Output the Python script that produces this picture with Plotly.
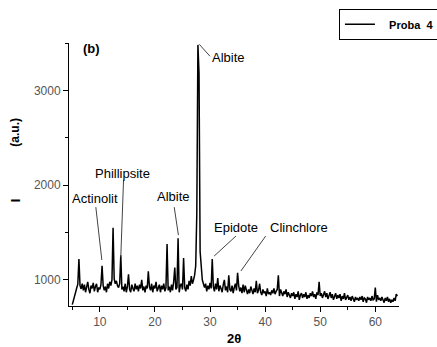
import plotly.graph_objects as go

# 2-theta scan, 0.2 degree step starting at 5.0
theta_start = 5.0
theta_step = 0.2
intensity = [
    740, 775, 815, 870, 915, 955, 1220, 940, 905, 960,
    890, 950, 870, 930, 980, 900, 860, 940, 910, 970,
    880, 930, 960, 870, 920, 900, 950, 1150, 940, 890,
    930, 870, 960, 910, 980, 940, 1000, 1550, 1010, 960,
    990, 940, 920, 960, 1260, 900, 930, 880, 960, 870,
    930, 1060, 900, 870, 950, 910, 880, 960, 900, 940,
    880, 950, 910, 1000, 890, 930, 870, 940, 910, 1090,
    930, 890, 960, 870, 940, 910, 980, 880, 920, 950,
    870, 940, 900, 960, 880, 920, 1380, 890, 930, 870,
    950, 890, 980, 1130, 900, 920, 1440, 870, 940, 960,
    900, 1230, 920, 880, 950, 900, 990, 940, 1040, 960,
    1000, 1050, 1150, 1700, 3480, 3180, 1300, 1100, 1000, 960,
    920, 960, 880, 940, 900, 970, 910, 1220, 930, 880,
    960, 900, 1020, 880, 940, 910, 870, 950, 1000, 890,
    930, 870, 1050, 900, 880, 940, 860, 920, 960, 890,
    1075, 940, 880, 920, 860, 950, 870, 940, 890, 850,
    900, 860, 930, 880, 850, 910, 870, 990, 860, 890,
    960, 870, 840, 900, 860, 880, 830, 910, 850, 870,
    840, 890, 860, 910, 850, 880, 900, 1050, 830, 900,
    860, 830, 880, 850, 900, 820, 870, 840, 810, 860,
    830, 870, 800, 850, 820, 880, 790, 840, 860, 810,
    850, 820, 870, 800, 840, 810, 860, 830, 880, 820,
    850, 800, 870, 840, 980, 830, 860, 810, 850, 880,
    820, 860, 800, 840, 870, 810, 850, 790, 830, 860,
    800, 840, 810, 850, 780, 830, 800, 860, 790, 820,
    840, 790, 820, 780, 830, 800, 770, 820, 790, 810,
    780, 820, 790, 830, 770, 810, 800, 760, 820, 790,
    810, 780, 830, 790, 800, 920, 770, 840, 790, 810,
    780, 820, 790, 760, 810, 780, 820, 770, 800, 760,
    790, 770, 810, 780, 850, 830,
]
two_theta = [round(theta_start + theta_step * i, 2) for i in range(len(intensity))]

series_name = "Proba  4"
panel_label = "(b)"
x_title = "2θ"
y_title_main = "I"
y_title_unit = "(a.u.)"

# phase labels: (text, label x, label y, leader start x, start y, end x, end y) in data units
labels = [
    ("Albite", 33.4, 3350, 28.05, 3486, 30.0, 3360),
    ("Phillipsite", 14.15, 2126, 14.3, 2053, 13.8, 1241),
    ("Actinolit", 9.1, 1863, 9.27, 1768, 10.36, 1210),
    ("Albite", 23.35, 1884, 23.5, 1768, 24.26, 1473),
    ("Epidote", 34.8, 1557, 34.7, 1463, 30.75, 1252),
    ("Clinchlore", 46.1, 1557, 40.1, 1463, 35.6, 1094),
]

fig = go.Figure()
fig.add_trace(go.Scatter(
    x=two_theta, y=intensity, mode="lines",
    name="\u00a0\u00a0\u00a0<b>" + series_name.replace(" ", "\u00a0") + "</b>",
    line=dict(color="black", width=1.5), showlegend=True,
))

font_family = "Liberation Sans, Arial, sans-serif"

for text, lx, ly, x0, y0, x1, y1 in labels:
    fig.add_annotation(x=lx, y=ly, text=text, showarrow=False,
                       font=dict(size=13, color="black", family=font_family))
    fig.add_shape(type="line", x0=x0, y0=y0, x1=x1, y1=y1,
                  line=dict(color="#444", width=1))

fig.add_annotation(x=8.55, y=3444, text="<b>" + panel_label + "</b>", showarrow=False,
                   font=dict(size=13, color="black", family=font_family))

fig.add_annotation(xref="paper", yref="paper", x=-0.163, y=0.403, xanchor="center", yanchor="middle",
                   text="<b>" + y_title_main + "</b>",
                   textangle=-90, showarrow=False, font=dict(size=13, color="black", family=font_family))
fig.add_annotation(xref="paper", yref="paper", x=-0.163, y=0.66, xanchor="center", yanchor="middle",
                   text="<b>" + y_title_unit + "</b>",
                   textangle=-90, showarrow=False, font=dict(size=12, color="black", family=font_family))
fig.add_annotation(xref="paper", yref="paper", x=0.5, y=-0.122, xanchor="center", yanchor="middle",
                   text="<b>" + x_title + "</b>",
                   showarrow=False, font=dict(size=13, color="black", family=font_family))

fig.update_layout(
    width=437, height=347,
    margin=dict(l=69, r=38, t=43, b=41, autoexpand=False),
    paper_bgcolor="white", plot_bgcolor="white",
    font=dict(family=font_family, size=12, color="#555"),
    showlegend=True,
    legend=dict(x=0.818, y=1.13, xanchor="left", yanchor="top",
                bordercolor="black", borderwidth=1, bgcolor="white",
                font=dict(size=11, color="black", family=font_family),
                itemwidth=30, tracegroupgap=0),
    xaxis=dict(range=[4.4, 64.3], showgrid=False, zeroline=False, automargin=False,
               showline=True, linecolor="black", linewidth=1,
               ticks="outside", ticklen=5, tickcolor="black", dtick=10, tick0=0,
               minor=dict(dtick=5, tick0=0, ticks="outside", ticklen=3, tickcolor="black")),
    yaxis=dict(range=[725, 3500], showgrid=False, zeroline=False, automargin=False,
               showline=True, linecolor="black", linewidth=1,
               ticks="outside", ticklen=5, tickcolor="black", dtick=1000, tick0=0,
               minor=dict(dtick=500, tick0=0, ticks="outside", ticklen=3, tickcolor="black")),
)

fig.write_html("out.html")
